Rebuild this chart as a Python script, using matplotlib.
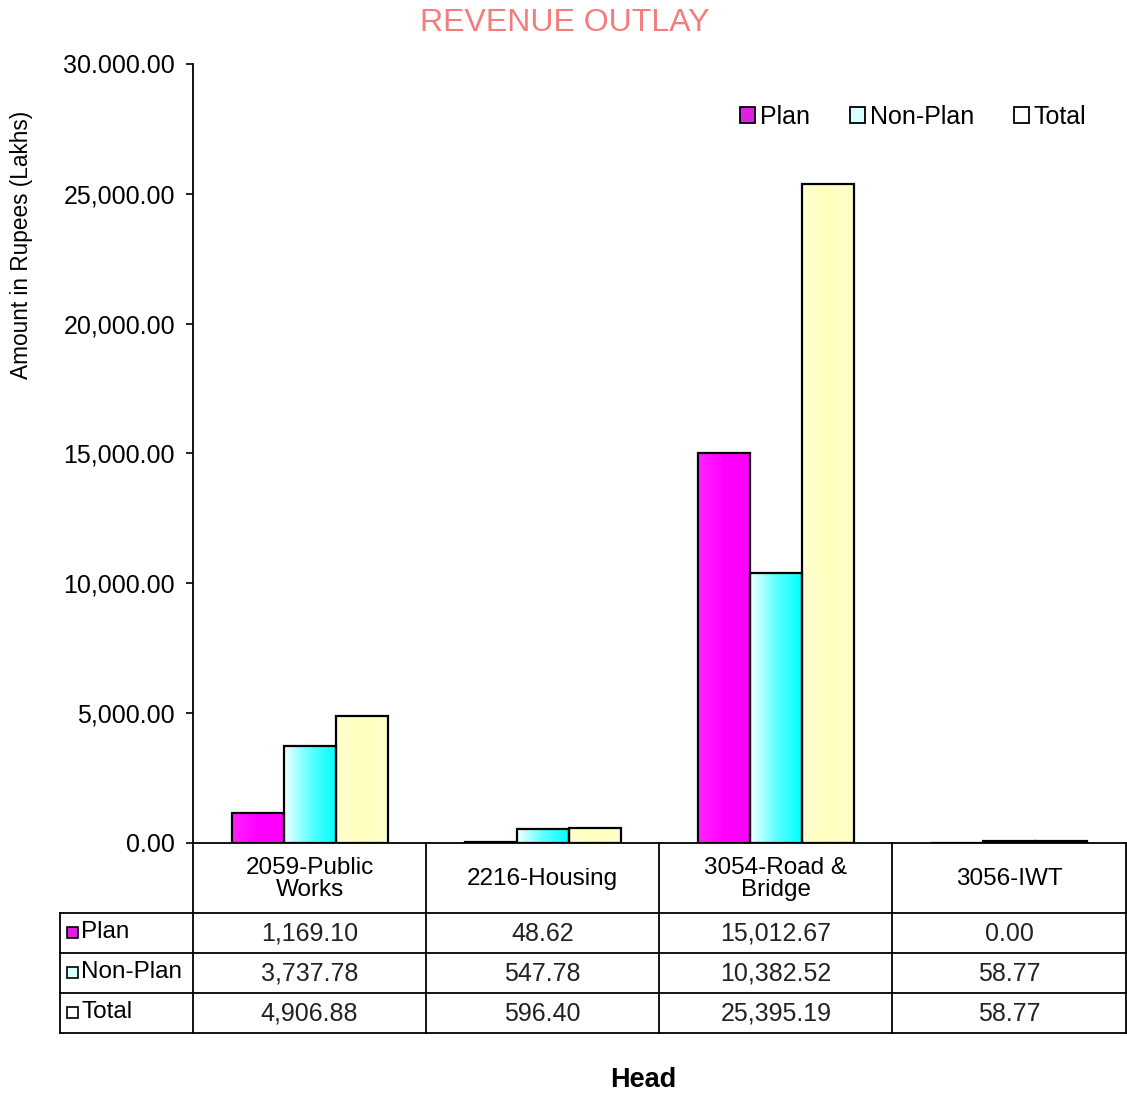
import matplotlib.pyplot as plt
import matplotlib.transforms as mtransforms
import numpy as np
from matplotlib.colors import LinearSegmentedColormap
from matplotlib.patches import Patch, Rectangle

plt.rcParams['font.family'] = ['Liberation Sans', 'DejaVu Sans']

heads = ['2059-Public\nWorks', '2216-Housing', '3054-Road &\nBridge', '3056-IWT']
series_names = ['Plan', 'Non-Plan', 'Total']
plan = [1169.10, 48.62, 15012.67, 0.00]
non_plan = [3737.78, 547.78, 10382.52, 58.77]
total = [4906.88, 596.40, 25395.19, 58.77]
y_ticks = [0, 5000, 10000, 15000, 20000, 25000, 30000]
y_tick_labels = ['0.00', '5,000.00', '10,000.00', '15,000.00',
                 '20,000.00', '25,000.00', '30.000.00']

series = [plan, non_plan, total]
gradients = [['#FF22FF', '#FF00FF', '#FF00FF'],
             ['#F0FFFF', '#60FFFF', '#00FFFF'],
             ['#FFFFD2', '#FFFFBE', '#FFFFCC']]
swatch = ['#E020E0', '#D8FFFF', '#FFFFFF']

W, H = 1127, 1094
fig = plt.figure(figsize=(W / 100, H / 100), dpi=100)
ax = fig.add_axes([193 / W, 1 - 843 / H, (1125.5 - 193) / W, (843 - 64) / H])


def fy(p):
    # pixel row -> figure fraction
    return 1 - p / H


x = np.arange(len(heads))
bw = 0.223
for k, vals in enumerate(series):
    pos = x + (k - 1) * bw
    cmap = LinearSegmentedColormap.from_list('g%d' % k, gradients[k])
    base = ax.bar(pos, vals, bw, color=gradients[k][-1], zorder=1.5)
    for rect in base:
        h = rect.get_height()
        if h <= 0:
            continue
        x0 = rect.get_x()
        im = ax.imshow(np.linspace(0, 1, 64).reshape(1, -1), cmap=cmap,
                       extent=[x0, x0 + rect.get_width(), 0, h],
                       aspect='auto', interpolation='bicubic', zorder=2)
        im.set_clip_path(rect)
    ax.bar(pos, vals, bw, facecolor='none', edgecolor='black', linewidth=1.6, zorder=3)

ax.set_xlim(-0.5, len(heads) - 0.5)
ax.set_ylim(0, 30000)
ax.set_yticks(y_ticks)
ax.set_yticklabels(y_tick_labels)
ax.set_xticks([])
ax.tick_params(axis='y', length=5, width=1.2, labelsize=18, pad=8)
for s in ['top', 'right']:
    ax.spines[s].set_visible(False)
for s in ['left', 'bottom']:
    ax.spines[s].set_linewidth(1.3)

handles = [Patch(facecolor=swatch[k], edgecolor='black', linewidth=1.3, label=series_names[k])
           for k in range(3)]
fig.legend(handles=handles, loc='center', bbox_to_anchor=(913 / W, fy(117)), ncol=3,
           frameon=False, fontsize=18, handlelength=0.6, handleheight=0.6,
           handletextpad=0.2, columnspacing=1.6)

# data table under the axis
trans = mtransforms.blended_transform_factory(ax.transData, fig.transFigure)
row_lines = [913, 953, 993, 1033]
lkw = dict(color='black', lw=1.3, clip_on=False)
left_px = 60
left_data = -0.5 - (193 - left_px) / ((1125.5 - 193) / len(heads))
for p in row_lines:
    ax.plot([left_data, len(heads) - 0.5], [fy(p), fy(p)], transform=trans, **lkw)
for i in range(len(heads) + 1):
    ax.plot([i - 0.5, i - 0.5], [fy(843), fy(1033)], transform=trans, **lkw)
ax.plot([left_data, left_data], [fy(913), fy(1033)], transform=trans, **lkw)

for i, head in enumerate(heads):
    ax.text(i, fy(879), head, transform=trans, ha='center', va='center',
            fontsize=17.5, linespacing=1.05)
    for k, vals in enumerate(series):
        ax.text(i, fy(934 + 40 * k), f'{vals[i]:,.2f}', transform=trans,
                ha='center', va='center', fontsize=18, color='#222222')

for k, name in enumerate(series_names):
    yc = 932 + 40 * k
    fig.patches.append(Rectangle((67 / W, fy(yc + 6)), 11 / W, 11 / H,
                                 facecolor=swatch[k], edgecolor='black', lw=1.2,
                                 transform=fig.transFigure, figure=fig))
    fig.text(81 / W, fy(yc), name, ha='left', va='center', fontsize=17.5)

fig.text(565 / W, fy(23), 'REVENUE OUTLAY', color='#F47C7C', fontsize=23,
         ha='center', va='center')
fig.text(22 / W, fy(245), 'Amount in Rupees (Lakhs)', rotation=90, fontsize=16.3,
         ha='center', va='center')
fig.text(643 / W, fy(1080), 'Head', fontsize=19.5, fontweight='bold',
         ha='center', va='center')

fig.savefig('out.png', dpi=100)
